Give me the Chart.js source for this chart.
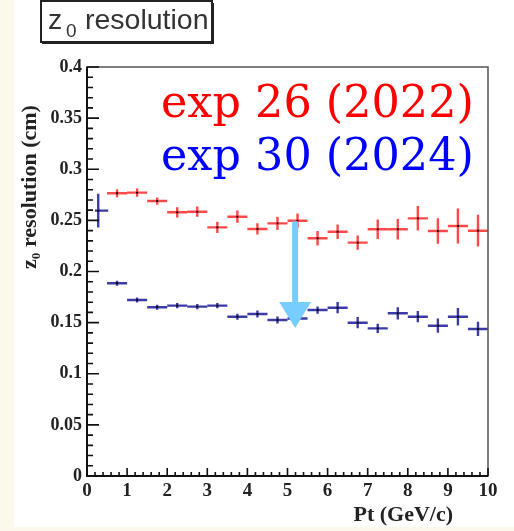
<!DOCTYPE html>
<html><head><meta charset="utf-8">
<script src="https://cdn.jsdelivr.net/npm/chart.js@4.4.1/dist/chart.umd.min.js"></script>
<style>
html,body{margin:0;padding:0;background:#fdf8ec;}
canvas{display:block}
</style></head><body>
<canvas id="c" width="514" height="531"></canvas>
<script>
// ---- data ----
const redPt  = [0.75,1.25,1.75,2.25,2.75,3.25,3.75,4.25,4.75,5.25,5.75,6.25,6.75,7.25,7.75,8.25,8.75,9.25,9.75];
const redRes = [0.2765,0.2771,0.2689,0.2579,0.2585,0.2432,0.2536,0.2416,0.2471,0.2497,0.2325,0.2389,0.2282,0.2413,0.2413,0.2520,0.2396,0.2445,0.2399];
const redErr = [0.0040,0.0040,0.0035,0.0050,0.0050,0.0055,0.0060,0.0055,0.0065,0.0070,0.0070,0.0070,0.0070,0.0095,0.0100,0.0120,0.0125,0.0170,0.0155];
const redXLo = [0.25,0.25,0.25,0.25,0.25,0.25,0.25,0.25,0.25,0.25,0.25,0.25,0.25,0.25,0.25,0.25,0.25,0.25,0.25];
const redXHi = [0.25,0.25,0.25,0.25,0.25,0.25,0.25,0.25,0.25,0.25,0.25,0.25,0.25,0.25,0.25,0.25,0.25,0.25,0.25];

const bluePt  = [0.28,0.75,1.25,1.75,2.25,2.75,3.25,3.75,4.25,4.75,5.25,5.75,6.25,6.75,7.25,7.75,8.25,8.75,9.25,9.75];
const blueRes = [0.2595,0.1885,0.1721,0.1650,0.1666,0.1656,0.1666,0.1558,0.1584,0.1526,0.1540,0.1623,0.1646,0.1499,0.1444,0.1591,0.1558,0.1470,0.1558,0.1438];
const blueErr = [0.0165,0.0025,0.0025,0.0025,0.0025,0.0025,0.0025,0.0030,0.0035,0.0035,0.0035,0.0035,0.0055,0.0055,0.0045,0.0060,0.0055,0.0070,0.0085,0.0070];
const blueXLo = [0.08,0.25,0.25,0.25,0.25,0.25,0.25,0.25,0.25,0.25,0.25,0.25,0.25,0.25,0.25,0.25,0.25,0.25,0.25,0.25];
const blueXHi = [0.25,0.25,0.25,0.25,0.25,0.25,0.25,0.25,0.25,0.25,0.25,0.25,0.25,0.25,0.25,0.25,0.25,0.25,0.25,0.25];

const xTicks = [0,1,2,3,4,5,6,7,8,9,10];
const yTicks = [0,0.05,0.1,0.15,0.2,0.25,0.3,0.35,0.4];
const seriesNames = ['exp 26 (2022)','exp 30 (2024)'];
const titleMain = 'z', titleSub = '0', titleRest = 'resolution';
const xTitle = 'Pt (GeV/c)';
const yTitle = 'z\u2080 resolution (cm)';
// annotation arrow (data units): from red level down to blue level
const arrowX = 5.19, arrowFrom = 0.249, arrowTo = 0.1447;

const RED = 'rgba(255,20,20,0.78)';
const BLUE = 'rgba(25,25,150,0.85)';
const SERIF = "'Liberation Serif','Times New Roman',serif";

const errs = [
  {x: redPt, y: redRes, e: redErr, lo: redXLo, hi: redXHi, color: RED},
  {x: bluePt, y: blueRes, e: blueErr, lo: blueXLo, hi: blueXHi, color: BLUE}
];

const rootPlugin = {
  id: 'rootStyle',
  beforeDraw(chart) {
    const c = chart.ctx;
    c.save();
    c.fillStyle = '#fdf8ec';
    c.fillRect(0, 0, chart.width, chart.height);
    c.fillStyle = '#ffffff';
    c.fillRect(14, 0, chart.width - 14, 527);
    c.restore();
  },
  beforeDatasetsDraw(chart) {
    const c = chart.ctx, xs = chart.scales.x, ys = chart.scales.y;
    c.save();
    c.lineWidth = 2.4;
    c.lineCap = 'butt';
    errs.forEach(s => {
      c.strokeStyle = s.color;
      for (let i = 0; i < s.x.length; i++) {
        const px = xs.getPixelForValue(s.x[i]);
        const py = ys.getPixelForValue(s.y[i]);
        c.beginPath();
        c.moveTo(xs.getPixelForValue(s.x[i] - s.lo[i]), py);
        c.lineTo(xs.getPixelForValue(s.x[i] + s.hi[i]), py);
        c.moveTo(px, ys.getPixelForValue(s.y[i] - s.e[i]));
        c.lineTo(px, ys.getPixelForValue(s.y[i] + s.e[i]));
        c.stroke();
      }
    });
    c.restore();
  },
  afterDatasetsDraw(chart) {
    const c = chart.ctx, xs = chart.scales.x, ys = chart.scales.y;
    const a = chart.chartArea;
    c.save();
    // frame
    c.strokeStyle = '#555';
    c.lineWidth = 1.5;
    c.strokeRect(a.left, a.top, a.right - a.left, a.bottom - a.top);
    c.strokeStyle = '#111';
    c.lineWidth = 2;
    c.beginPath();
    c.moveTo(a.left, a.top); c.lineTo(a.left, a.bottom); c.lineTo(a.right, a.bottom);
    c.stroke();
    // ticks
    c.lineWidth = 1.6;
    c.beginPath();
    for (let i = 0; i <= 40; i++) {
      const y = ys.getPixelForValue(i / 100);
      const len = (i % 5 === 0) ? 12 : 6;
      c.moveTo(a.left, y); c.lineTo(a.left + len, y);
    }
    for (let i = 0; i <= 50; i++) {
      const x = xs.getPixelForValue(i * 0.2);
      const len = (i % 5 === 0) ? 8 : 4;
      c.moveTo(x, a.bottom); c.lineTo(x, a.bottom - len);
    }
    c.stroke();
    // arrow
    const ax = xs.getPixelForValue(arrowX);
    const ay0 = ys.getPixelForValue(arrowFrom);
    const ay1 = ys.getPixelForValue(arrowTo);
    c.fillStyle = 'rgb(120,205,255)';
    c.fillRect(ax - 3, ay0, 6, (ay1 - 26) - ay0 + 1);
    c.beginPath();
    c.moveTo(ax - 16, ay1 - 26);
    c.lineTo(ax + 16, ay1 - 26);
    c.lineTo(ax, ay1);
    c.closePath();
    c.fill();
    c.restore();
  },
  afterDraw(chart) {
    const c = chart.ctx;
    c.save();
    // legend texts
    c.font = "44.5px 'DejaVu Serif', serif";
    c.textAlign = 'left';
    c.textBaseline = 'alphabetic';
    c.fillStyle = '#ff0000';
    c.fillText(seriesNames[0], 161, 117);
    c.fillStyle = '#0000ff';
    c.fillText(seriesNames[1], 161, 170);
    // title box
    c.fillStyle = '#fff';
    c.fillRect(40, 1, 172, 41);
    c.fillStyle = '#222';
    c.fillRect(42, 41, 172, 3);
    c.fillRect(211, 3, 3, 41);
    c.strokeStyle = '#222';
    c.lineWidth = 2;
    c.strokeRect(41, 1, 171, 41);
    c.fillStyle = '#333';
    c.font = "28.5px 'Liberation Sans', Arial, sans-serif";
    c.fillText(titleMain, 48, 29);
    c.fillText(titleRest, 85, 29);
    c.font = "19px 'Liberation Sans', Arial, sans-serif";
    c.fillText(titleSub, 66, 37);
    // axis titles
    c.font = "bold 22px " + SERIF;
    c.fillStyle = '#222';
    c.textAlign = 'right';
    c.fillText(xTitle, 453, 521);
    c.translate(36, 187);
    c.rotate(-Math.PI / 2);
    c.textAlign = 'center';
    c.fillText(yTitle, 0, 0);
    c.restore();
  }
};

new Chart(document.getElementById('c'), {
  type: 'scatter',
  data: {
    datasets: [
      { label: seriesNames[0], data: redPt.map((x, i) => ({x, y: redRes[i]})),
        pointRadius: 1.3, pointStyle: 'rect', backgroundColor: '#000', borderWidth: 0, showLine: false },
      { label: seriesNames[1], data: bluePt.map((x, i) => ({x, y: blueRes[i]})),
        pointRadius: 1.3, pointStyle: 'rect', backgroundColor: '#000', borderWidth: 0, showLine: false }
    ]
  },
  options: {
    responsive: false,
    animation: false,
    devicePixelRatio: 1,
    layout: { padding: { left: 0, top: 67, right: 26, bottom: 0 } },
    plugins: { legend: { display: false }, tooltip: { enabled: false }, title: { display: false } },
    scales: {
      x: {
        type: 'linear', min: 0, max: 10,
        afterBuildTicks: s => { s.ticks = xTicks.map(v => ({value: v})); },
        afterFit: s => { s.height = 55; },
        grid: { display: false, drawTicks: false, tickLength: 0 },
        border: { display: false },
        ticks: { padding: 4, maxRotation: 0, autoSkip: false, color: '#222',
                 font: { family: SERIF, size: 19, weight: 'bold' }, callback: v => String(v) }
      },
      y: {
        type: 'linear', min: 0, max: 0.4,
        afterBuildTicks: s => { s.ticks = yTicks.map(v => ({value: v})); },
        afterFit: s => { s.width = 87; },
        grid: { display: false, drawTicks: false, tickLength: 0 },
        border: { display: false },
        ticks: { padding: 5, autoSkip: false, color: '#222',
                 font: { family: SERIF, size: 18, weight: 'bold' }, callback: v => String(+(+v).toFixed(2)) }
      }
    }
  },
  plugins: [rootPlugin]
});
</script>
</body></html>
